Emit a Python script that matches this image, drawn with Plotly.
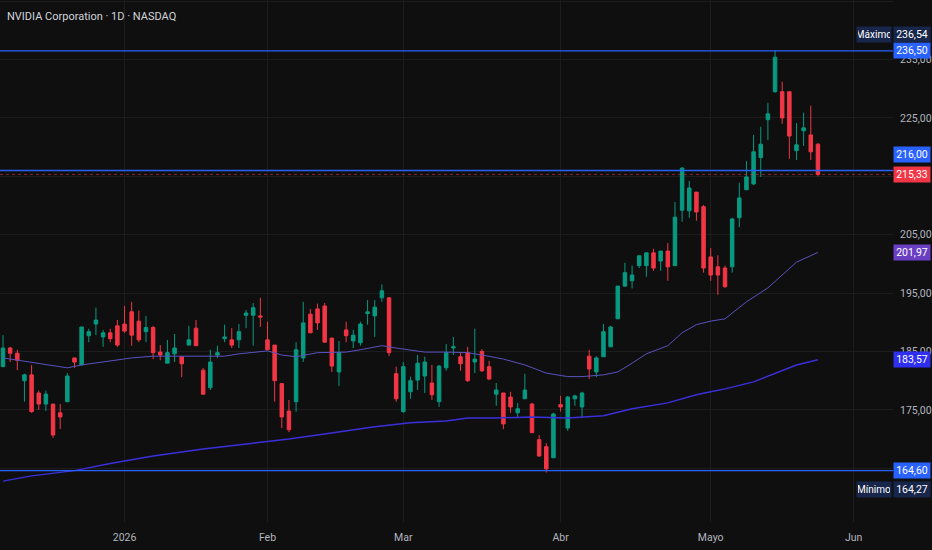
import pandas as pd
import plotly.graph_objects as go

# -- Data --

holidays = ["2025-12-25", "2026-01-01", "2026-01-19", "2026-02-16", "2026-04-03", "2026-05-25"]
sessions = [d for d in pd.bdate_range("2025-12-08", "2026-06-05") if d.strftime("%Y-%m-%d") not in holidays]

opens = [182.4, 185.6, 184.7, 180.0, 181.0, 177.9, 176.0, 176.0, 174.5, 176.4,
         183.9, 182.7, 187.7, 189.7, 187.5, 188.2, 189.4, 189.7, 191.8, 190.2,
         188.4, 189.1, 184.9, 183.0, 184.6, 184.1, 186.1, 189.0, 181.8, 178.8,
         184.4, 187.2, 187.0, 187.0, 191.2, 191.2, 191.1, 187.0, 186.1, 179.5,
         174.8, 176.4, 183.9, 191.4, 192.3, 192.8, 187.3, 181.5, 188.7, 186.8,
         186.5, 191.5, 191.1, 194.2, 194.2, 181.2, 174.7, 178.1, 180.1, 180.8,
         179.6, 176.4, 182.2, 185.6, 184.1, 184.8, 183.2, 185.0, 182.4, 177.7,
         177.9, 177.2, 174.5, 176.9, 176.0, 169.9, 168.7, 166.8, 175.9, 171.9,
         176.9, 175.5, 184.2, 181.5, 184.1, 185.8, 190.6, 196.2, 197.1, 199.7,
         199.7, 201.9, 200.5, 202.2, 199.7, 209.2, 209.1, 212.3, 209.8, 201.2,
         199.5, 199.3, 199.5, 207.9, 212.7, 213.7, 218.2, 224.7, 229.5, 229.5,
         229.5, 219.4, 222.8, 222.1, 220.5]
highs = [187.8, 185.8, 185.3, 181.2, 182.7, 178.3, 178.3, 176.0, 176.0, 181.3,
         183.9, 189.2, 188.9, 192.5, 188.7, 188.9, 190.4, 192.8, 193.5, 192.0,
         191.1, 189.4, 186.1, 187.0, 188.0, 184.1, 189.4, 190.4, 182.2, 185.3,
         186.0, 189.6, 189.0, 189.7, 192.1, 193.3, 194.2, 190.1, 186.1, 179.5,
         176.7, 186.6, 193.5, 192.3, 193.2, 193.3, 187.3, 186.8, 190.1, 188.7,
         190.1, 193.8, 193.8, 196.5, 194.2, 182.4, 183.2, 180.7, 184.4, 184.1,
         182.7, 182.7, 186.3, 187.5, 184.8, 185.8, 188.9, 185.4, 183.4, 179.6,
         177.9, 178.1, 176.2, 181.2, 176.2, 170.7, 169.3, 174.5, 177.4, 177.4,
         177.6, 178.1, 185.3, 184.2, 189.7, 189.4, 196.2, 200.2, 199.7, 201.4,
         201.9, 202.6, 202.2, 203.6, 210.6, 216.6, 214.2, 212.3, 210.1, 202.7,
         201.5, 199.7, 207.9, 213.9, 217.6, 222.1, 223.5, 227.6, 236.54, 231.2,
         229.5, 224.1, 225.9, 227.1, 220.7]
lows = [182.4, 183.2, 181.8, 176.4, 174.5, 175.0, 174.8, 170.2, 171.7, 176.4,
        182.2, 182.7, 186.6, 187.8, 185.8, 186.6, 185.8, 188.2, 186.0, 186.6,
        186.6, 183.7, 183.5, 183.0, 183.2, 180.6, 186.1, 186.0, 177.6, 178.4,
        183.9, 186.6, 185.6, 185.6, 189.0, 186.0, 189.2, 185.3, 176.4, 171.9,
        171.2, 174.7, 183.2, 188.2, 188.7, 186.5, 181.5, 179.1, 186.6, 185.6,
        186.0, 189.6, 187.5, 193.5, 184.2, 176.4, 174.5, 176.9, 178.4, 177.9,
        176.7, 175.5, 181.7, 184.4, 181.7, 179.8, 181.3, 181.5, 180.1, 175.7,
        171.7, 174.5, 173.8, 176.9, 171.1, 167.0, 164.27, 166.8, 174.7, 171.4,
        175.7, 173.6, 180.3, 180.6, 184.1, 185.8, 190.6, 196.1, 195.8, 199.3,
        197.8, 198.8, 198.8, 197.1, 199.7, 207.2, 207.9, 207.4, 198.5, 197.1,
        194.7, 195.9, 198.5, 206.3, 212.7, 213.5, 214.9, 221.2, 229.3, 224.0,
        218.0, 217.8, 220.2, 217.8, 215.0]
closes = [185.6, 184.7, 183.5, 181.0, 174.7, 176.0, 177.7, 170.7, 173.8, 180.8,
          183.2, 189.2, 188.4, 190.4, 188.2, 187.2, 186.1, 188.5, 187.8, 187.0,
          189.1, 184.8, 184.4, 184.8, 185.6, 182.9, 187.0, 186.0, 177.7, 183.2,
          184.8, 187.5, 186.1, 188.4, 191.6, 192.5, 190.9, 185.3, 180.0, 173.8,
          171.6, 185.3, 189.9, 188.2, 189.9, 186.6, 182.5, 184.8, 187.7, 187.8,
          189.7, 191.8, 192.6, 195.4, 184.8, 176.9, 182.4, 180.0, 183.0, 183.2,
          177.6, 182.5, 184.8, 185.8, 182.9, 180.0, 183.7, 181.7, 180.3, 178.4,
          172.6, 175.5, 175.2, 178.4, 171.1, 167.1, 164.9, 174.3, 175.5, 177.2,
          177.4, 177.9, 182.0, 183.9, 188.4, 189.2, 196.2, 198.5, 198.1, 201.4,
          201.9, 199.3, 202.2, 199.5, 208.0, 216.4, 213.0, 208.9, 199.3, 198.1,
          198.1, 196.1, 207.7, 211.3, 214.9, 219.2, 220.5, 225.7, 235.4, 225.0,
          221.9, 220.4, 223.3, 219.2, 215.33]

# moving averages, read at a handful of bars
ma50_bar = [0, 4, 7, 9, 11, 14, 18, 21, 26, 31, 33, 35, 37, 39, 41, 44, 48, 50, 52, 53,
            55, 57, 59, 62, 65, 67, 70, 73, 76, 79, 81, 84, 86, 88, 90, 93, 95, 97, 99,
            101, 102, 104, 107, 109, 111, 114]
ma50_val = [183.9, 183.2, 182.6, 182.2, 182.7, 183.2, 183.9, 184.2, 184.2, 184.2, 184.6,
            184.9, 185.1, 184.4, 184.1, 184.8, 184.9, 185.3, 185.8, 186.0, 185.6, 185.3,
            184.9, 184.9, 184.8, 184.4, 183.7, 182.7, 181.3, 180.7, 180.7, 181.0, 181.5,
            183.0, 184.6, 186.0, 188.2, 189.6, 190.2, 190.6, 191.6, 193.5, 195.9, 198.1,
            200.3, 201.97]
ma200_bar = [0, 4, 10, 15, 21, 28, 35, 40, 44, 48, 52, 57, 62, 65, 69, 74, 79, 84, 88, 93,
             97, 99, 101, 105, 108, 111, 114]
ma200_val = [162.8, 163.7, 164.6, 165.8, 167.1, 168.3, 169.3, 170.0, 170.7, 171.4, 172.1,
             172.8, 173.1, 173.6, 173.6, 173.8, 173.6, 174.0, 175.2, 176.2, 177.6, 178.1,
             178.6, 179.8, 181.3, 182.7, 183.57]

max_price = 236.54
min_price = 164.27
level_top = 236.50
level_bottom = 164.60
level_mid = 216.00
last_price = closes[-1]

month_names = {1: "2026", 2: "Feb", 3: "Mar", 4: "Abr", 5: "Mayo", 6: "Jun"}
price_ticks = [165, 175, 185, 195, 205, 215, 225, 235, 245]
hidden_ticks = [165, 215]  # sit fully under the price tags

# -- Figure --

bars = list(range(len(opens)))

tick_bars, tick_text = [], []
for i, d in enumerate(sessions):
    if d.month in month_names and (i == 0 or sessions[i - 1].month != d.month):
        tick_bars.append(i)
        tick_text.append(month_names[d.month])


def fmt(v):
    return f"{v:.2f}".replace(".", ",")


GREEN = "#089981"
RED = "#f23645"
BLUE = "#2962ff"
NAVY = "#17264a"
BG = "#0f0f0f"
GRID = "#1d1d1d"
FONT = "Roboto"

fig = go.Figure()

fig.add_trace(go.Scatter(x=ma200_bar, y=ma200_val, mode="lines",
                         line=dict(color="#3b2fdc", width=1.5), hoverinfo="skip"))
fig.add_trace(go.Scatter(x=ma50_bar, y=ma50_val, mode="lines",
                         line=dict(color="#5a52c0", width=1), hoverinfo="skip"))

fig.add_trace(go.Candlestick(
    x=bars, open=opens, high=highs, low=lows, close=closes,
    increasing=dict(line=dict(color=GREEN, width=1), fillcolor=GREEN),
    decreasing=dict(line=dict(color=RED, width=1), fillcolor=RED),
    whiskerwidth=0,
))

for lvl in [level_top, level_mid, level_bottom]:
    fig.add_hline(y=lvl, line=dict(color=BLUE, width=1.3))
fig.add_hline(y=last_price, line=dict(color="rgba(242,54,69,0.55)", width=1, dash="dot"))

# price labels on the right scale
tags = [
    (level_top, BLUE, 0),
    (level_mid, BLUE, 16),
    (last_price, RED, 0),
    (ma50_val[-1], "#6a3fc4", 0),
    (ma200_val[-1], "#2f2ff0", 0),
    (level_bottom, BLUE, 0),
    (max_price, NAVY, 16),
    (min_price, NAVY, -17),
]
for val, col, shift in tags:
    fig.add_annotation(x=1, xref="paper", xanchor="left", xshift=0,
                       y=val, yref="y", yanchor="middle", yshift=shift,
                       text=fmt(val), showarrow=False, bgcolor=col,
                       width=34, height=13, borderpad=1,
                       font=dict(family=FONT, size=10.5, color="#ffffff"))

for val, txt, shift in [(max_price, "Máximo", 16), (min_price, "Mínimo", -17)]:
    fig.add_annotation(x=1, xref="paper", xanchor="right", xshift=-1,
                       y=val, yref="y", yanchor="middle", yshift=shift,
                       text=txt, showarrow=False, bgcolor=NAVY,
                       width=32, height=13, borderpad=1,
                       font=dict(family=FONT, size=10, color="#ffffff"))

fig.add_annotation(x=0, xref="paper", xanchor="left", xshift=5,
                   y=1, yref="paper", yanchor="middle", yshift=-16,
                   text="NVIDIA Corporation · 1D · NASDAQ", showarrow=False,
                   font=dict(family=FONT, size=11, color="#d1d4dc"))

fig.update_layout(
    width=932, height=550,
    margin=dict(l=0, r=39, t=0, b=28),
    paper_bgcolor=BG, plot_bgcolor=BG,
    showlegend=False,
    font=dict(family=FONT, size=10.5, color="#b2b5be"),
    xaxis=dict(range=[-0.42, 124.5], tickvals=tick_bars, ticktext=tick_text,
               showgrid=True, gridcolor=GRID, gridwidth=1, zeroline=False,
               showline=False, ticks="", rangeslider=dict(visible=False),
               ticklabelstandoff=7),
    yaxis=dict(range=[155.8, 245.2], side="right", tickvals=price_ticks,
               ticktext=["" if v in hidden_ticks else fmt(v) for v in price_ticks],
               showgrid=True, gridcolor=GRID, gridwidth=1, zeroline=False,
               showline=False, ticks="", ticklabelstandoff=6),
)

fig.write_html("out.html", config={"displayModeBar": False},
               post_script="document.body.style.margin='0';")
